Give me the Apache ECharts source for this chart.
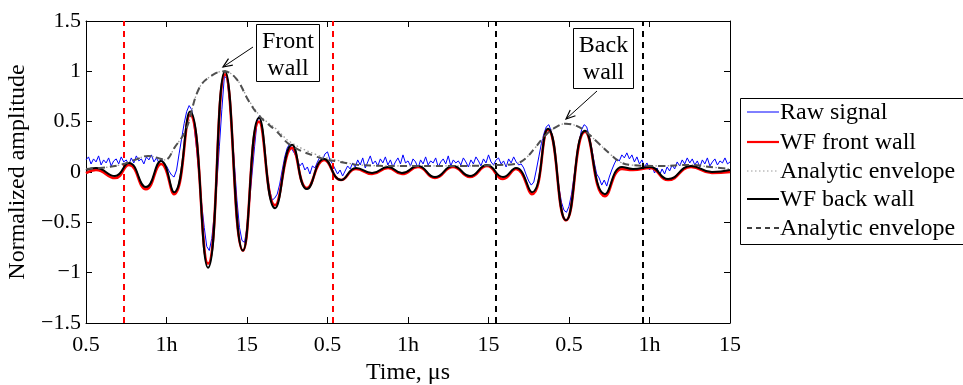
<!DOCTYPE html>
<html><head><meta charset="utf-8">
<script src="https://cdn.jsdelivr.net/npm/echarts@6/dist/echarts.min.js"></script>
<style>html,body{margin:0;padding:0;background:#fff}#c{width:963px;height:385px}</style>
</head><body><div id="c"></div>
<script>
// ---- data (x in tick-index units 0..8) ----
const xTickLabels = ['0.5','1h','15','0.5','1h','15','0.5','1h','15'];
const yTicks = [-1.5, -1, -0.5, 0, 0.5, 1, 1.5];

// raw signal sampled every 1/32 unit starting at 0
const rawStart = 0;
const rawStep = 1 / 32;
const rawSignal = [
 0.12,0.15,0.08,0.13,0.10,0.16,0.07,0.12,0.09,0.14,0.06,0.11,0.13,0.08,0.15,0.10,
 0.12,0.07,0.14,0.09,0.16,0.11,0.13,0.08,0.15,0.12,0.17,0.10,0.14,0.09,0.13,0.07,
 0.06,0.01,-0.03,-0.05,0.02,0.18,0.33,0.48,0.60,0.66,0.62,0.45,0.22,-0.05,-0.32,-0.55,
 -0.74,-0.78,-0.66,-0.42,-0.12,0.25,0.62,0.95,0.93,0.72,0.42,0.08,-0.28,-0.55,-0.68,-0.70,
 -0.55,-0.30,-0.02,0.25,0.50,0.56,0.45,0.22,-0.02,-0.18,-0.28,-0.26,-0.22,-0.12,0.02,0.15,
 0.24,0.28,0.22,0.18,0.12,0.06,0.09,0.02,0.05,-0.02,0.06,0.04,0.10,0.15,0.12,0.18,
 0.20,0.12,0.08,0.03,-0.02,0.02,-0.04,0.01,0.06,0.03,
 0.09,0.05,0.12,0.07,0.14,0.04,0.10,0.16,0.08,0.11,0.06,0.13,0.09,0.15,0.07,
 0.12,0.05,0.10,0.14,0.08,0.17,0.09,0.11,0.06,0.13,0.10,0.04,0.12,0.08,0.15,
 0.07,0.11,0.09,0.14,0.05,0.10,0.13,0.08,0.16,0.06,0.12,0.09,0.11,0.07,0.14,
 0.10,0.05,0.12,0.08,0.15,0.11,0.06,0.13,0.09,0.17,0.10,0.07,0.12,0.14,0.08,
 0.11,0.05,0.13,0.09,0.15,0.10,0.07,
 0.08,0.04,-0.03,-0.09,-0.13,-0.10,0.02,0.15,0.28,0.38,0.45,0.47,0.40,0.25,0.05,-0.15,
 -0.30,-0.38,-0.40,-0.34,-0.22,-0.04,0.14,0.30,0.42,0.47,0.45,0.36,0.24,0.10,-0.02,-0.06,
 -0.13,-0.08,-0.14,-0.05,0.02,0.08,0.13,0.11,0.17,0.14,0.19,0.13,0.17,0.10,0.15,0.08,0.12,
 0.05,0.09,0.02,0.06,-0.01,0.04,-0.03,0.03,-0.02,0.05,0.01,0.07,0.03,0.10,0.06,0.12,0.08,
 0.14,0.09,0.13,0.07,0.11,0.05,0.12,0.08,0.14,0.06,0.10,0.13,0.07,0.11,0.09,0.14,0.08,0.10
];

// wave-fitted signals: extrema positions and values
const wfX = [0,0.124,0.360,0.534,0.745,0.932,1.093,1.292,1.516,1.727,1.950,2.149,2.348,2.559,2.745,2.957,
  3.168,3.354,3.553,3.752,3.925,4.124,4.335,4.559,4.770,4.981,5.180,5.342,5.540,5.739,5.963,6.199,
  6.447,6.658,6.795,7.006,7.230,7.516,7.776,8.0];
const wfBackWall = [0.02,0.04,-0.04,0.09,-0.15,0.11,-0.20,0.60,-0.95,1.00,-0.78,0.54,-0.36,0.27,-0.17,0.13,
  -0.08,0.04,-0.01,0.05,-0.01,0.06,-0.05,0.06,-0.04,0.07,-0.05,0.04,-0.20,0.43,-0.48,0.41,
  -0.22,0.05,0.03,0.05,-0.07,0.06,0.00,0.02];
const wfFrontWall = [-0.01,0.02,-0.06,0.07,-0.17,0.08,-0.22,0.57,-0.91,0.97,-0.78,0.50,-0.33,0.24,-0.16,0.12,
  -0.08,0.03,-0.02,0.04,-0.02,0.05,-0.06,0.05,-0.05,0.06,-0.07,0.03,-0.22,0.42,-0.48,0.40,
  -0.24,0.03,0.02,0.04,-0.08,0.05,-0.01,0.00];

// analytic envelopes
const envX = [0,0.174,0.422,0.609,0.770,0.894,0.981,1.106,1.242,1.404,1.565,1.714,1.863,2.025,2.161,2.373,
  2.534,2.870,3.155,3.404,3.901,4.646,5.143,5.329,5.453,5.578,5.702,5.826,5.963,6.087,6.211,6.360,
  6.509,6.634,6.758,7.130,7.503,7.752,8.0];
const envBack = [0.03,0.04,0.07,0.12,0.16,0.14,0.12,0.25,0.42,0.83,0.96,1.00,0.93,0.70,0.55,0.40,
  0.27,0.15,0.10,0.07,0.06,0.06,0.07,0.08,0.13,0.24,0.36,0.44,0.48,0.46,0.40,0.29,
  0.18,0.10,0.07,0.06,0.07,0.05,0.03];
const envFront = [0.03,0.04,0.07,0.12,0.16,0.14,0.12,0.25,0.42,0.83,0.96,1.00,0.93,0.71,0.56,0.42,
  0.30,0.17,0.11,0.07,0.06,0.06,0.07,0.08,0.13,0.24,0.36,0.44,0.48,0.46,0.40,0.29,
  0.18,0.10,0.07,0.06,0.07,0.05,0.03];

const frontGates = [0.47, 3.07];
const backGates = [5.09, 6.92];

const legendNames = ['Raw signal','WF front wall','Analytic envelope','WF back wall','Analytic envelope'];

// ---- chart ----
const FONT = '"Liberation Serif", "Times New Roman", "DejaVu Serif", serif';
const pair = (xs, ys) => xs.map((x, i) => [x, ys[i]]);
const rawData = rawSignal.map((v, i) => [rawStart + i * rawStep, v]);

const chart = echarts.init(document.getElementById('c'), null, {renderer: 'canvas'});

const axisCommon = {
  type: 'value',
  axisLine: {show: true, onZero: false, lineStyle: {color: '#000', width: 1}},
  axisTick: {show: true, inside: true, length: 6, lineStyle: {color: '#000', width: 1}},
  splitLine: {show: false}
};

const lineSeries = (name, data, color, width, type, z, smooth) => ({
  name, type: 'line', data, showSymbol: false, symbol: 'none', smooth: smooth,
  lineStyle: {color, width, type}, z, animation: false, silent: true
});

const s = [
  lineSeries(legendNames[0], rawData, '#0000ff', 1, 'solid', 2, false),
  lineSeries(legendNames[1], pair(wfX, wfFrontWall), '#ff0000', 2.6, 'solid', 3, 0.5),
  lineSeries(legendNames[2], pair(envX, envFront), '#9a9a9a', 1.3, [1.5, 2.5], 4, 0.4),
  lineSeries(legendNames[3], pair(wfX, wfBackWall), '#000000', 2, 'solid', 5, 0.5),
  lineSeries(legendNames[4], pair(envX, envBack), '#505050', 2, [7, 5], 6, 0.4)
];
s[1].markLine = {silent: true, symbol: ['none','none'], label: {show: false}, animation: false,
  lineStyle: {color: '#ff0000', width: 2, type: [6, 5]}, data: frontGates.map(x => ({xAxis: x}))};
s[3].markLine = {silent: true, symbol: ['none','none'], label: {show: false}, animation: false,
  lineStyle: {color: '#000000', width: 2, type: [6, 5]}, data: backGates.map(x => ({xAxis: x}))};

// legend & annotations as graphics
const legendY = [112, 142, 171, 199, 228];
const legendStyles = [
  {stroke: '#0000ff', lineWidth: 1},
  {stroke: '#ff0000', lineWidth: 2.2},
  {stroke: '#9a9a9a', lineWidth: 1, lineDash: [1.5, 2.5]},
  {stroke: '#000000', lineWidth: 2},
  {stroke: '#000000', lineWidth: 1.5, lineDash: [5, 4]}
];
const graphics = [];
graphics.push({type: 'rect', shape: {x: 740.5, y: 98.5, width: 260, height: 146}, style: {fill: '#fff', stroke: '#000', lineWidth: 1}, z: 100});
legendNames.forEach((n, i) => {
  graphics.push({type: 'line', shape: {x1: 747, y1: legendY[i], x2: 779, y2: legendY[i]}, style: legendStyles[i], z: 101});
  graphics.push({type: 'text', x: 780, y: legendY[i] + 1, style: {text: n, font: '24px ' + FONT, fill: '#000', textAlign: 'left', textVerticalAlign: 'middle'}, z: 101});
});

function annotation(box, lines, from, to) {
  graphics.push({type: 'rect', shape: box, style: {fill: '#fff', stroke: '#000', lineWidth: 1}, z: 90});
  lines.forEach((t, i) => graphics.push({type: 'text', x: box.x + box.width / 2, y: box.y + 17 + i * 27,
    style: {text: t, font: '24px ' + FONT, fill: '#000', textAlign: 'center', textVerticalAlign: 'middle'}, z: 91}));
  graphics.push({type: 'line', shape: {x1: from[0], y1: from[1], x2: to[0], y2: to[1]}, style: {stroke: '#000', lineWidth: 1}, z: 91});
  const ang = Math.atan2(from[1] - to[1], from[0] - to[0]);
  const L = 10, a = 0.4;
  graphics.push({type: 'polyline', shape: {points: [
    [to[0] + L * Math.cos(ang + a), to[1] + L * Math.sin(ang + a)], to,
    [to[0] + L * Math.cos(ang - a), to[1] + L * Math.sin(ang - a)]]},
    style: {stroke: '#000', lineWidth: 1.2, fill: null}, z: 91});
}
annotation({x: 256.5, y: 24.5, width: 63, height: 57}, ['Front', 'wall'], [253, 47], [223, 67]);
annotation({x: 573.5, y: 28.5, width: 60, height: 60}, ['Back', 'wall'], [597, 91], [566, 119]);

const labelFont = {fontFamily: FONT, fontSize: 22, color: '#000'};

chart.setOption({
  animation: false,
  backgroundColor: '#fff',
  grid: {left: 86, right: 233, top: 21, bottom: 62, containLabel: false, outerBoundsMode: 'none'},
  xAxis: [
    Object.assign({}, axisCommon, {min: 0, max: 8, interval: 1, position: 'bottom',
      name: 'Time, μs', nameLocation: 'middle', nameGap: 38,
      nameTextStyle: {fontFamily: FONT, fontSize: 24, color: '#000'},
      axisLabel: Object.assign({margin: 11, formatter: v => xTickLabels[Math.round(v)]}, labelFont)}),
    Object.assign({}, axisCommon, {min: 0, max: 8, interval: 1, position: 'top', axisLabel: {show: false}})
  ],
  yAxis: [
    Object.assign({}, axisCommon, {min: yTicks[0], max: yTicks[yTicks.length - 1], interval: 0.5, position: 'left',
      name: 'Normalized amplitude', nameLocation: 'middle', nameGap: 51,
      nameTextStyle: {fontFamily: FONT, fontSize: 24, color: '#000'},
      axisLabel: Object.assign({margin: 5, formatter: v => (v < 0 ? '\u2212' : '') + Math.abs(v)}, labelFont)}),
    Object.assign({}, axisCommon, {min: yTicks[0], max: yTicks[yTicks.length - 1], interval: 0.5, position: 'right', axisLabel: {show: false}})
  ],
  series: s,
  graphic: graphics
});
</script></body></html>
